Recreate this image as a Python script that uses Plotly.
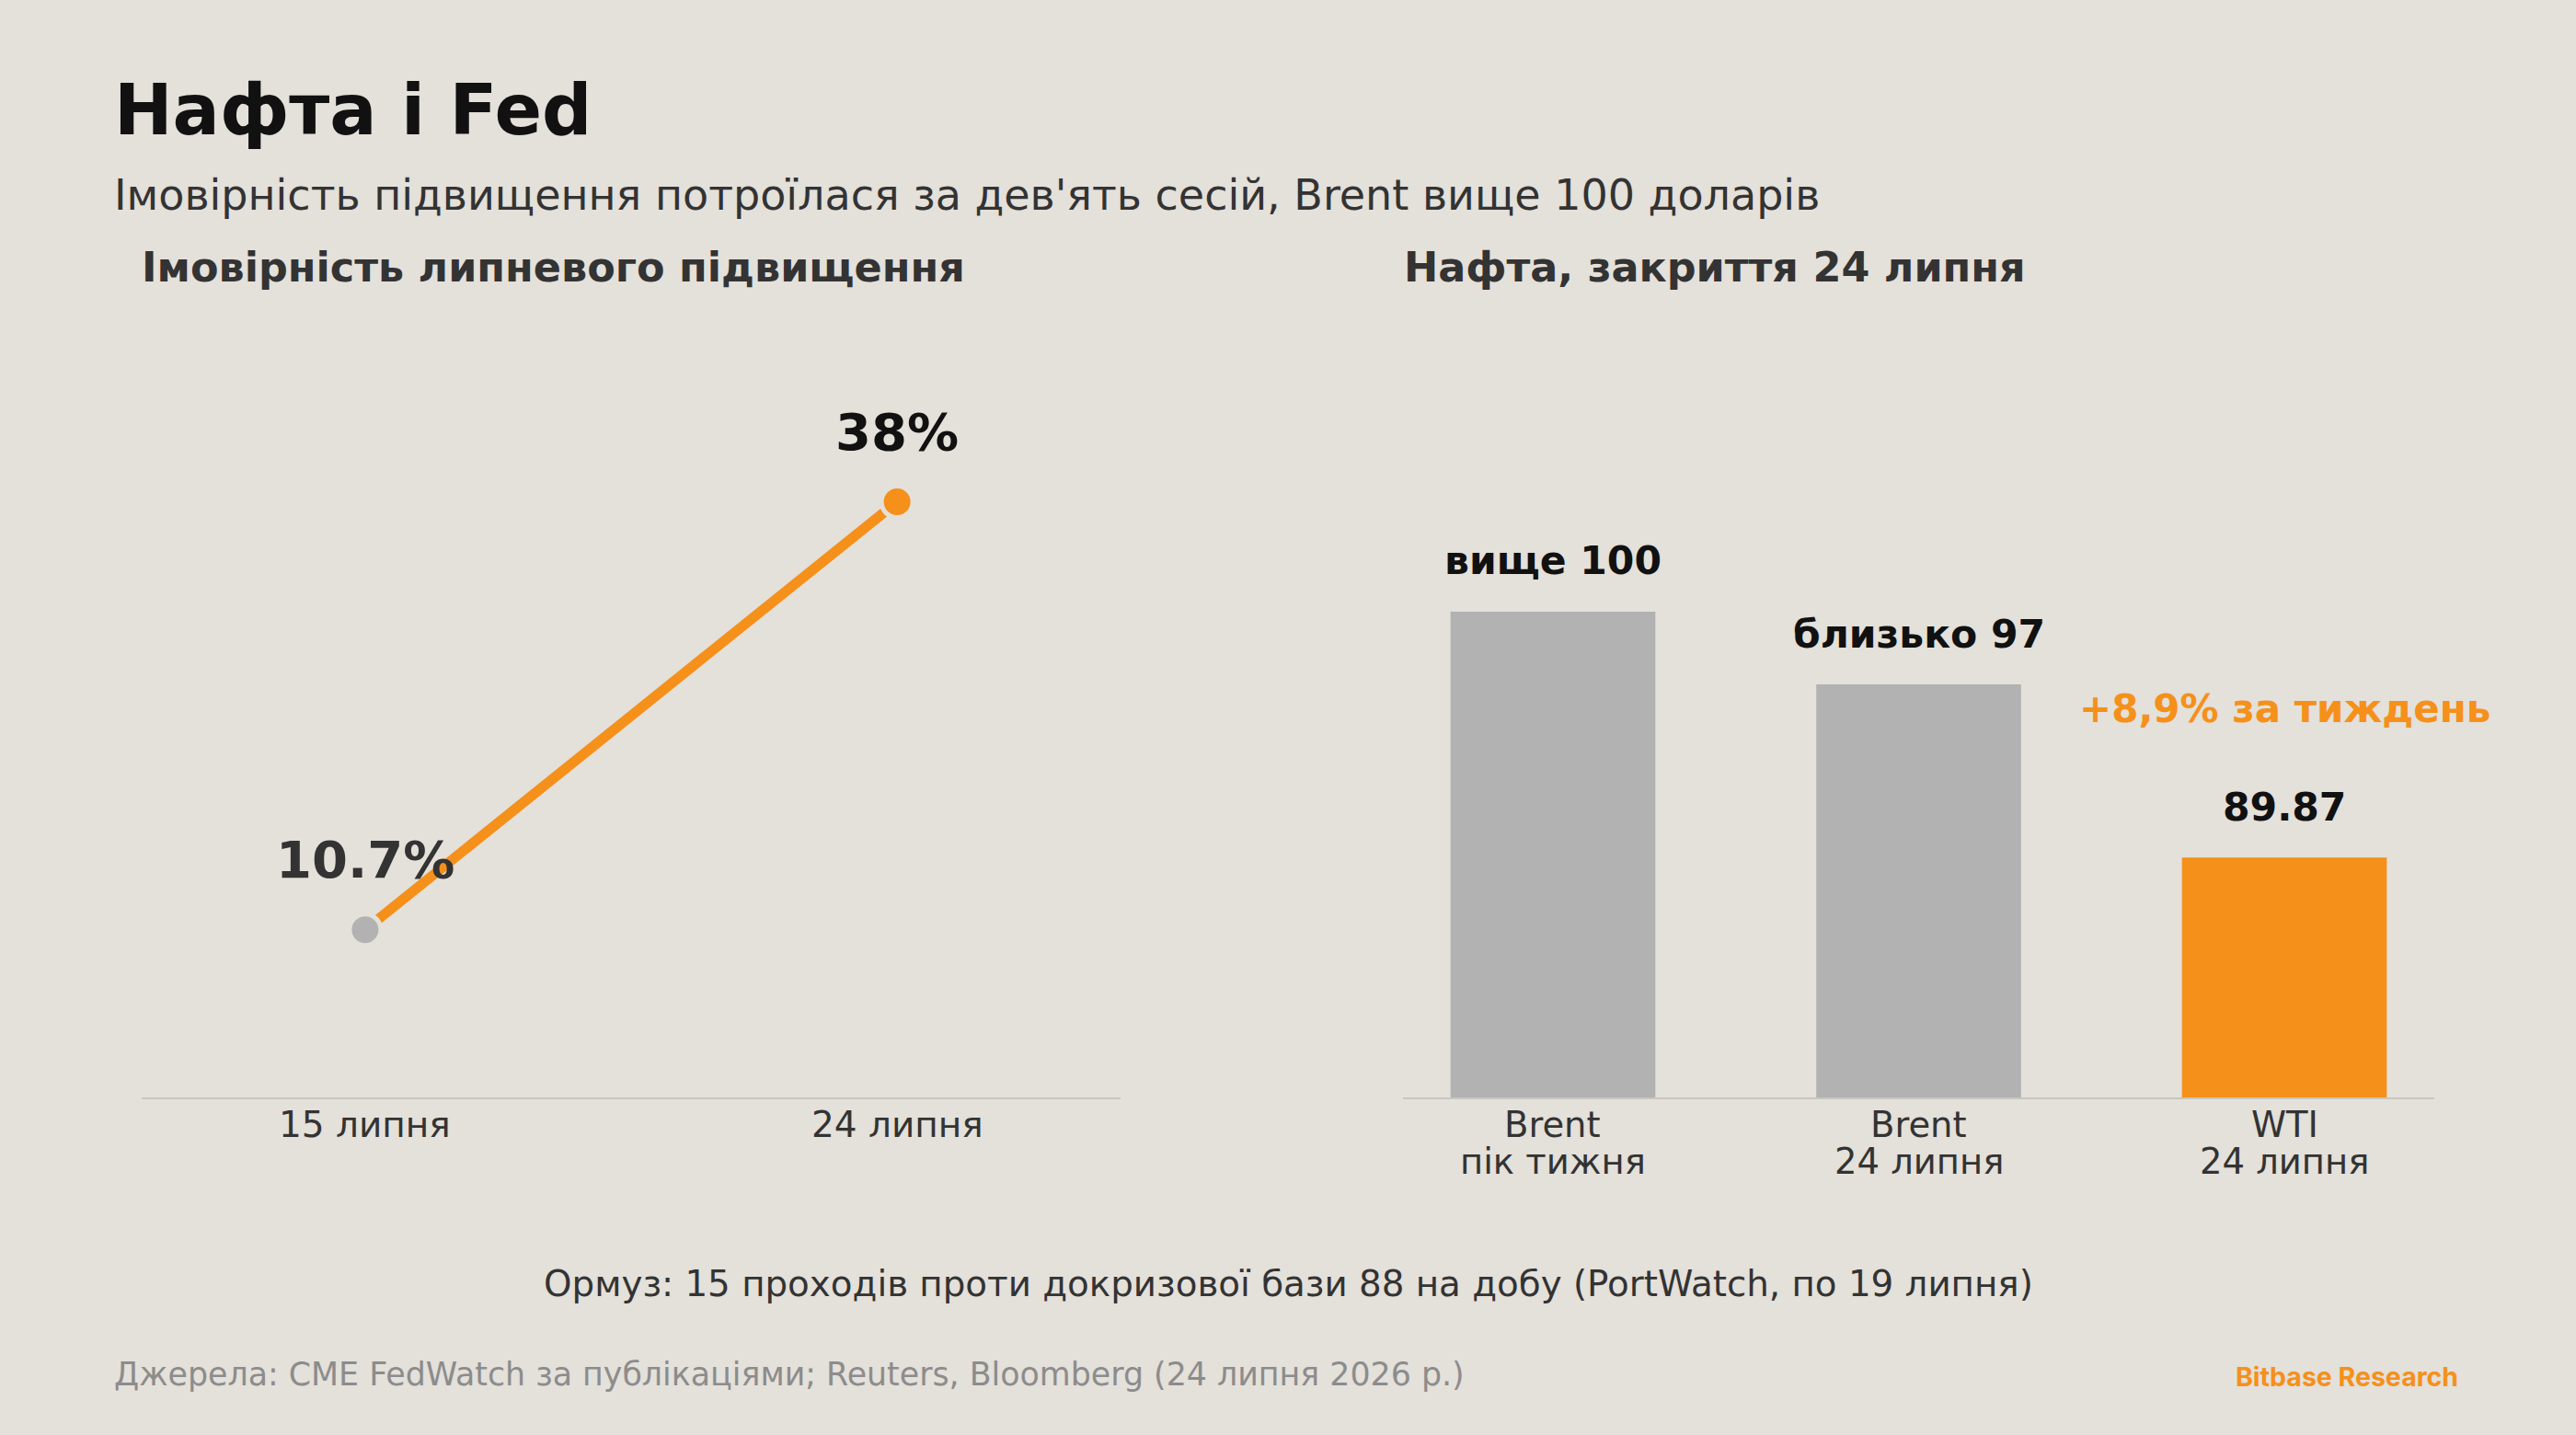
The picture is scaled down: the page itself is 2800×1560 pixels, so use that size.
import plotly.graph_objects as go

# left panel: probability of a July hike
prob_dates = ["15 липня", "24 липня"]
prob_values = [10.7, 38.0]
prob_labels = ["10.7%", "38%"]

# right panel: oil close on 24 July
oil_names = ["Brent пік", "Brent 24", "WTI 24"]
oil_tick_top = ["Brent", "Brent", "WTI"]
oil_tick_bottom = ["пік тижня", "24 липня", "24 липня"]
oil_values = [100.0, 97.0, 89.87]
oil_labels = ["вище 100", "близько 97", "89.87"]
wti_note = "+8,9% за тиждень"

BG = "#e4e0da"
ORANGE = "#f5901a"
GREY = "#b2b2b2"
FONT = "DejaVu Sans"

fig = go.Figure()

fig.add_trace(go.Scatter(
    x=prob_dates, y=prob_values, mode="lines",
    line=dict(color=ORANGE, width=11),
    xaxis="x", yaxis="y", hoverinfo="skip",
))
fig.add_trace(go.Scatter(
    x=prob_dates, y=prob_values, mode="markers",
    marker=dict(color=[GREY, ORANGE], size=34, line=dict(color=BG, width=5)),
    xaxis="x", yaxis="y",
))

fig.add_trace(go.Bar(
    x=oil_names, y=oil_values, width=0.56,
    marker=dict(color=[GREY, GREY, ORANGE], line=dict(width=0)),
    xaxis="x2", yaxis="y2",
))

ann = []
for d, v, t, c in zip(prob_dates, prob_values, prob_labels, ["#333333", "#111111"]):
    ann.append(dict(x=d, y=v, xref="x", yref="y", text=f"<b>{t}</b>", showarrow=False,
                    yshift=76, font=dict(size=56, color=c, family=FONT)))
    ann.append(dict(x=d, y=0, xref="x", yref="y", text=d, showarrow=False,
                    yshift=-29, font=dict(size=39, color="#333333", family=FONT)))
for n, v, t, top, bot in zip(oil_names, oil_values, oil_labels, oil_tick_top, oil_tick_bottom):
    ann.append(dict(x=n, y=v, xref="x2", yref="y2", text=f"<b>{t}</b>", showarrow=False,
                    yshift=55, font=dict(size=42.5, color="#111111", family=FONT)))
    ann.append(dict(x=n, y=80, xref="x2", yref="y2", text=top, showarrow=False, height=38,
                    yshift=-29, font=dict(size=38.5, color="#333333", family=FONT)))
    ann.append(dict(x=n, y=80, xref="x2", yref="y2", text=bot, showarrow=False, height=38,
                    yshift=-69, font=dict(size=38.5, color="#333333", family=FONT)))
ann.append(dict(x=oil_names[2], y=oil_values[2], xref="x2", yref="y2", text=f"<b>{wti_note}</b>",
                showarrow=False, yshift=162, font=dict(size=42, color=ORANGE, family=FONT)))

def paper_text(text, x, y, size, color, anchor="left", bold=False, family=FONT):
    if bold:
        text = f"<b>{text}</b>"
    return dict(text=text, x=x / 2800, y=1 - y / 1560, xref="paper", yref="paper",
                xanchor=anchor, yanchor="middle", showarrow=False,
                font=dict(size=size, color=color, family=family))

ann += [
    paper_text("Нафта і Fed", 122, 120, 76, "#111111", bold=True),
    paper_text("Імовірність підвищення потроїлася за дев'ять сесій, Brent вище 100 доларів",
               122, 212, 46, "#333333"),
    paper_text("Імовірність липневого підвищення", 152, 290, 44.5, "#333333", bold=True),
    paper_text("Нафта, закриття 24 липня", 1524, 290, 44.5, "#333333", bold=True),
    paper_text("Ормуз: 15 проходів проти докризової бази 88 на добу (PortWatch, по 19 липня)",
               1400, 1395, 38.8, "#333333", anchor="center"),
    paper_text("Джерела: CME FedWatch за публікаціями; Reuters, Bloomberg (24 липня 2026 р.)",
               122, 1494, 34.8, "#8c8c8c"),
    paper_text("Bitbase Research", 2674, 1496, 28.5, ORANGE, anchor="right", bold=True, family="Inter"),
]

y_dom = [1 - 1193 / 1560, 1 - 348 / 1560]
axis_common = dict(showgrid=False, zeroline=False, ticks="", showline=True,
                   linecolor="#c9c5c0", linewidth=2, showticklabels=False)

fig.update_layout(
    width=2800, height=1560,
    margin=dict(l=0, r=0, t=0, b=0),
    paper_bgcolor=BG, plot_bgcolor=BG,
    showlegend=False,
    font=dict(family=FONT),
    xaxis=dict(domain=[154 / 2800, 1218 / 2800], range=[-0.42, 1.42], type="category", **axis_common),
    yaxis=dict(domain=y_dom, range=[0, 49.6], visible=False),
    xaxis2=dict(domain=[1525 / 2800, 2646 / 2800], range=[-0.41, 2.41], type="category",
                anchor="y2", **axis_common),
    yaxis2=dict(domain=y_dom, range=[80, 112], visible=False, anchor="x2"),
    annotations=ann,
)

fig.write_html("out.html", config={"displayModeBar": False},
               post_script="document.body.style.margin='0';document.body.style.background='%s';" % BG)
